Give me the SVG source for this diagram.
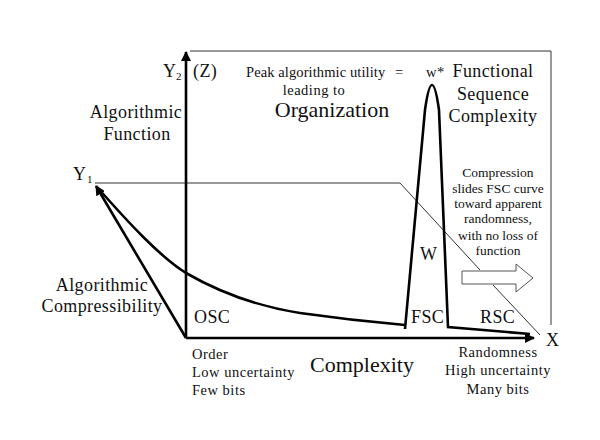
<svg xmlns="http://www.w3.org/2000/svg" width="600" height="440" viewBox="0 0 600 440" font-family="'Liberation Serif','Times New Roman',serif">
<style>
text{font-family:"Liberation Serif","Times New Roman",serif;fill:#111}
.m{font-size:18px;letter-spacing:0.4px}
.s{font-size:13.5px}
.b{font-size:14.5px;letter-spacing:0.5px}
.l{font-size:22px}
.thin{stroke:#333;stroke-width:1;fill:none}
.thick{stroke:#000;stroke-width:2.6;fill:none}
</style>
<defs>
<marker id="ah" viewBox="0 0 10 10" refX="9" refY="5" markerWidth="10" markerHeight="10" markerUnits="userSpaceOnUse" orient="auto">
<path d="M0,0 L10,5 L0,10 Z" fill="#000"/>
</marker>
</defs>
<rect width="600" height="440" fill="#fff"/>
<g id="connectors">
<path class="thin" d="M190,51 H551 V325"/>
<path class="thin" d="M95,183 H400 L480,270"/>
<path class="thin" d="M493,285 L540,335"/>
<path class="thick" d="M186,338 V52" marker-end="url(#ah)"/>
<path class="thick" d="M186,338 H534" marker-end="url(#ah)"/>
<path class="thick" d="M186,338 L96,186" marker-end="url(#ah)"/>
<path class="thick" d="M405,325 C370,322 335,318 300,313 C262,307 224,295 186,273 C160,257 127,221 97,187"/>
<path class="thick" d="M405,329 L425,110 Q432,60 439,110 L448,327 L530,334"/>
<path d="M462,271 H516 V264 L533,278 L516,292 V284 H462 Z" fill="#fff" stroke="#555" stroke-width="1"/>
</g>
<g id="labels">
<text class="m" x="163" y="77">Y</text><text x="176" y="80" font-size="11">2</text>
<text class="m" x="193" y="77">(Z)</text>
<text class="m" x="136" y="118" text-anchor="middle">Algorithmic</text>
<text class="m" x="137" y="140" text-anchor="middle">Function</text>
<text class="m" x="73" y="180">Y</text><text x="87" y="183" font-size="11">1</text>
<text class="b" x="246" y="77" style="letter-spacing:0.1px">Peak algorithmic utility</text>
<text class="b" x="395" y="77">=</text>
<text class="b" x="426" y="77">w*</text>
<text class="b" x="314" y="95" text-anchor="middle">leading to</text>
<text class="l" x="332" y="117" text-anchor="middle">Organization</text>
<text class="m" x="493" y="77" text-anchor="middle">Functional</text>
<text class="m" x="493" y="100" text-anchor="middle">Sequence</text>
<text class="m" x="493" y="122" text-anchor="middle">Complexity</text>
<g class="s" text-anchor="middle">
<text x="498" y="177">Compression</text>
<text x="498" y="193">slides FSC curve</text>
<text x="498" y="208">toward apparent</text>
<text x="498" y="223">randomness,</text>
<text x="498" y="240">with no loss of</text>
<text x="498" y="255">function</text>
</g>
<text class="m" x="420" y="260">W</text>
<text class="m" x="411" y="323">FSC</text>
<text class="m" x="480" y="323">RSC</text>
<text class="m" x="194" y="323">OSC</text>
<text class="m" x="546" y="346">X</text>
<text class="m" x="102" y="291" text-anchor="middle">Algorithmic</text>
<text class="m" x="102" y="312" text-anchor="middle">Compressibility</text>
<text class="b" x="192" y="359">Order</text>
<text class="b" x="192" y="377">Low uncertainty</text>
<text class="b" x="192" y="395">Few bits</text>
<text class="l" x="362" y="372" text-anchor="middle">Complexity</text>
<text class="b" x="498" y="357" text-anchor="middle">Randomness</text>
<text class="b" x="498" y="375" text-anchor="middle">High uncertainty</text>
<text class="b" x="498" y="394" text-anchor="middle">Many bits</text>
</g>
</svg>
